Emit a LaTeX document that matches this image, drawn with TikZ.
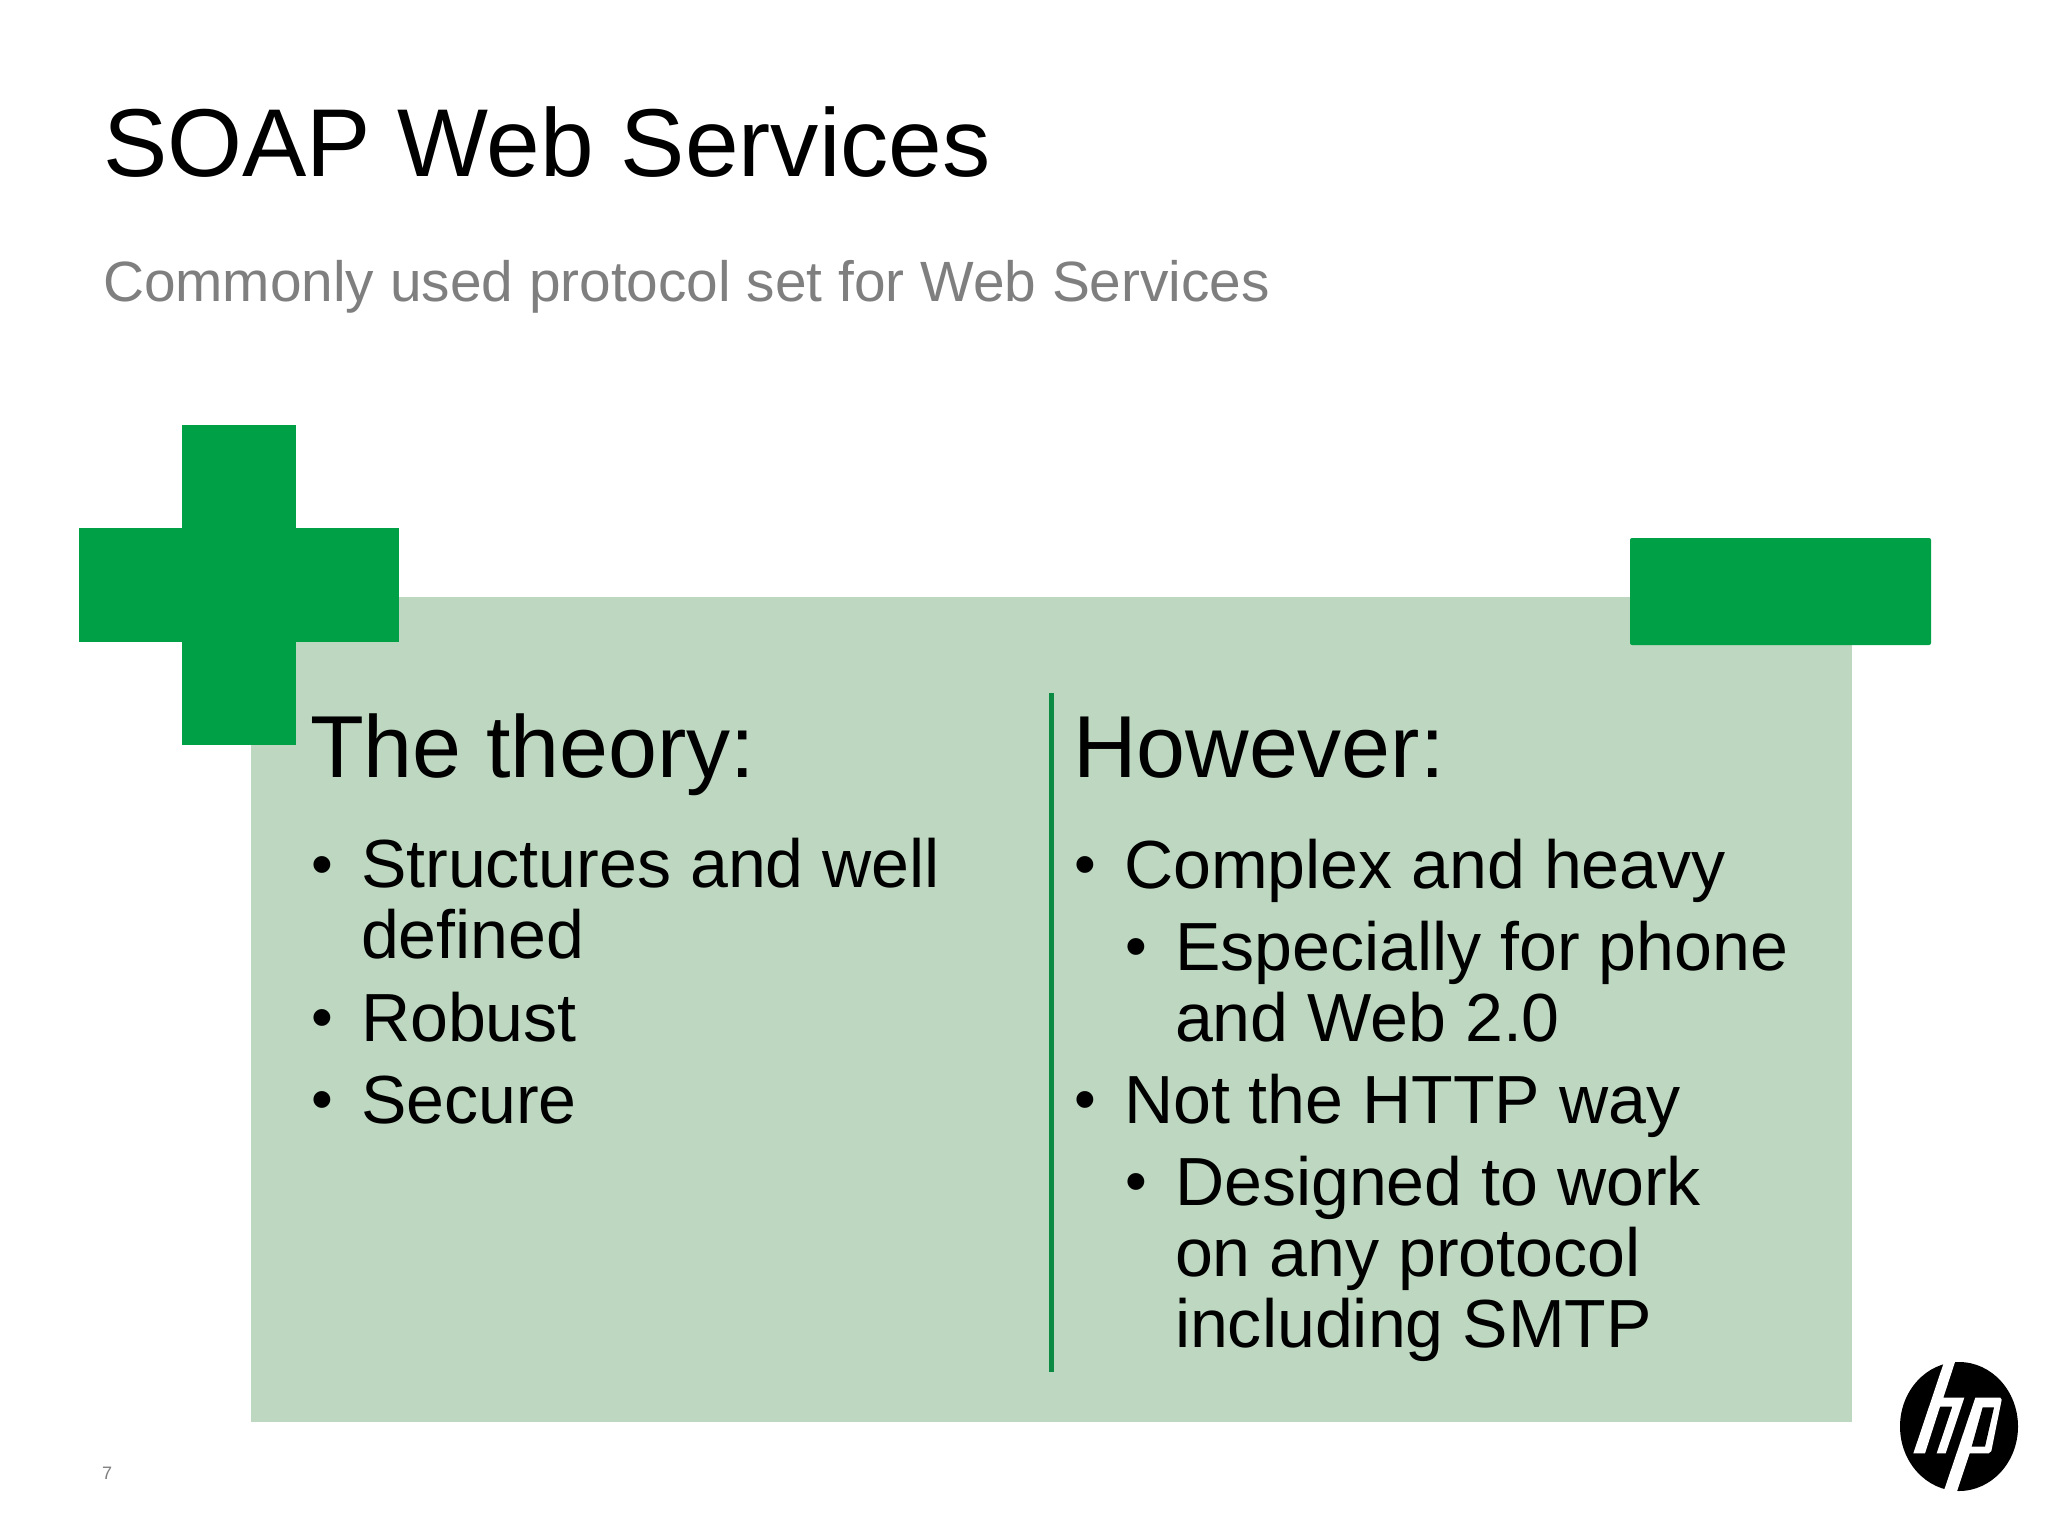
\documentclass[tikz,border=0pt]{standalone}
\usepackage{fontspec}
\setmainfont{Liberation Sans}
\definecolor{hpgreen}{HTML}{00A047}
\definecolor{panelgreen}{HTML}{BDD7C0}
\definecolor{divgreen}{HTML}{0A8A42}
\definecolor{subgray}{HTML}{7F7F7F}
\tikzset{
  txt/.style={anchor=base west,inner sep=0pt,outer sep=0pt,align=left,text=black},
  titletxt/.style={txt,font=\fontsize{96.4}{100}\selectfont},
  subtxt/.style={txt,text=subgray,font=\fontsize{56.8}{60}\selectfont},
  headtxt/.style={txt,font=\fontsize{88}{92}\selectfont},
  itemtxt/.style={txt,font=\fontsize{68.1}{70.6}\selectfont},
  bullettxt/.style={txt,font=\fontsize{62}{64}\selectfont,yshift=2.5pt,xshift=1pt},
  pagetxt/.style={txt,text=subgray,font=\fontsize{18}{20}\selectfont}
}
\begin{document}
\begin{tikzpicture}[x=1pt,y=-1pt]
\useasboundingbox (0,0) rectangle (2048,1536);
\fill[white] (0,0) rectangle (2048,1536);
\node[titletxt] (title) at (103,176) {SOAP Web Services};
\node[subtxt] (subtitle) at (103,301) {Commonly used protocol set for Web Services};
\fill[panelgreen] (251,597) rectangle (1852,1422);
\fill[hpgreen] (182,425) rectangle (295.5,745);
\fill[hpgreen] (79,528) rectangle (398.5,642);
\fill[hpgreen,rounded corners=2pt] (1630,538) rectangle (1931,645);
\fill[divgreen] (1049,693) rectangle (1054,1372);
\node[headtxt] (hl) at (310,777) {The theory:};
\node[headtxt] (hr) at (1073,777) {However:};
\node[bullettxt] (bl1) at (310,888) {•};
\node[itemtxt] (l1) at (361,958.5) {Structures and well\\defined};
\node[bullettxt] (bl2) at (310,1041) {•};
\node[itemtxt] (l2) at (361,1041) {Robust};
\node[bullettxt] (bl3) at (310,1123) {•};
\node[itemtxt] (l3) at (361,1123) {Secure};
\node[bullettxt] (br1) at (1073,888) {•};
\node[itemtxt] (r1) at (1124,888) {Complex and heavy};
\node[bullettxt] (br2) at (1124,970) {•};
\node[itemtxt] (r2) at (1175,1041) {Especially for phone\\and Web 2.0};
\node[bullettxt] (br3) at (1073,1123) {•};
\node[itemtxt] (r3) at (1124,1123) {Not the HTTP way};
\node[bullettxt] (br4) at (1124,1205) {•};
\node[itemtxt] (r4) at (1175,1347) {Designed to work\\on any protocol\\including SMTP};
\node[pagetxt] (page) at (102,1479) {7};
% logo
\fill[black] (1959,1426.5) ellipse (59 and 64.5);
\begin{scope}[shift={(1895,1355)},x=0.33333pt,y=-0.33333pt]
\fill[white] (149,15) -- (182,15) -- (145,128) -- (208,128) -- (152,295) -- (125,295) -- (172,155) -- (135,155) -- (90,295) -- (55,295) -- cycle;
\fill[white] (144,415) -- (184,415) -- (224,295) -- (281,295) -- (289,288) -- (320,134) -- (316,128) -- (241,128) -- cycle;
\fill[black] (263,157) -- (297,157) -- (270,275) -- (230,275) -- cycle;
\end{scope}
\end{tikzpicture}
\end{document}
